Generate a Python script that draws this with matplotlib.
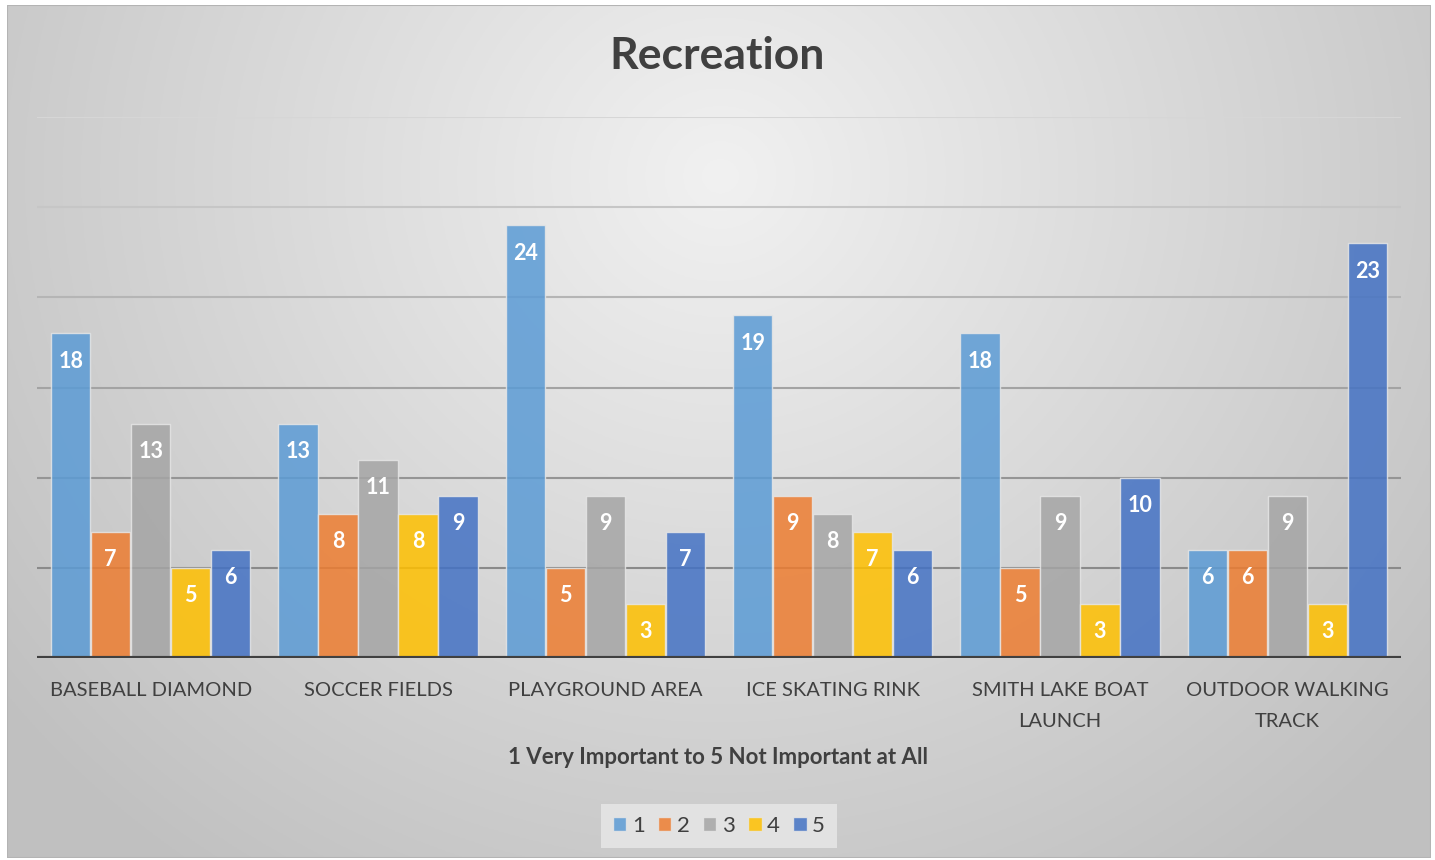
import numpy as np
import matplotlib.pyplot as plt
from matplotlib.patches import Rectangle

categories = ['BASEBALL DIAMOND', 'SOCCER FIELDS', 'PLAYGROUND AREA', 'ICE SKATING RINK',
              'SMITH LAKE BOAT\nLAUNCH', 'OUTDOOR WALKING\nTRACK']
series_names = ['1', '2', '3', '4', '5']
vals_1 = [18, 13, 24, 19, 18, 6]
vals_2 = [7, 8, 5, 9, 5, 6]
vals_3 = [13, 11, 9, 8, 9, 9]
vals_4 = [5, 8, 3, 7, 3, 3]
vals_5 = [6, 9, 7, 6, 10, 23]
grid_vals = [5, 10, 15, 20, 25, 30]

colors = ['#5B9BD5', '#ED7D31', '#A5A5A5', '#FFC000', '#4472C4']
grid_colors = ['#8a8a8a', '#959595', '#a3a3a3', '#b5b5b5', '#c6c6c6', '#d6d6d6']

plt.rcParams['font.family'] = ['Lato', 'DejaVu Sans']

W, H = 1435, 860
fig = plt.figure(figsize=(W / 100, H / 100), dpi=100)
fig.patch.set_facecolor('white')

# fondo con gradiente radial
bg = fig.add_axes([7 / W, 2 / H, (1431 - 7) / W, (855 - 2) / H])
bg.set_axis_off()
yy, xx = np.mgrid[0:300, 0:500]
cx, cy = 250, 60
d = np.sqrt(((xx - cx) / 320) ** 2 + ((yy - cy) / 300) ** 2)
d = np.clip(d, 0, 1)
g = 0.945 - 0.19 * d
img = np.dstack([g, g, g])
bg.imshow(img, aspect='auto', extent=[0, 1, 0, 1], origin='upper')
bg.set_xlim(0, 1)
bg.set_ylim(0, 1)
bg.add_patch(Rectangle((0, 0), 1, 1, fill=False, edgecolor='#b4b4b4', lw=1.5,
                       transform=bg.transAxes))

ax = fig.add_axes([37 / W, 1 - 658 / H, (1401 - 37) / W, (658 - 117) / H])
ax.patch.set_alpha(0)
for s in ax.spines.values():
    s.set_visible(False)

x = np.arange(len(categories))
bw = 40 / 227.3
all_vals = [vals_1, vals_2, vals_3, vals_4, vals_5]
for gv, gc in zip(grid_vals, grid_colors):
    ax.axhline(gv, color=gc, lw=1.5, zorder=1)

for i, (vals, c) in enumerate(zip(all_vals, colors)):
    pos = x + (i - 2) * bw
    bars = ax.bar(pos, vals, width=bw * 0.98, color=c, alpha=0.85,
                  edgecolor='#e6e6e6', linewidth=1, zorder=2, label=series_names[i])
    for p, v in zip(pos, vals):
        ax.annotate(str(v), (p, v), xytext=(0, -28), textcoords='offset pixels',
                    ha='center', va='center', color='white', fontsize=15.5,
                    fontweight='bold', zorder=4)

ax.axhline(0, color='#404040', lw=3, zorder=3)
ax.set_xlim(-0.5, len(categories) - 0.5)
ax.set_ylim(0, 30)
ax.set_yticks([])
ax.set_xticks(x)
ax.set_xticklabels(categories, fontsize=14.5, color='#404040', linespacing=2.0)
ax.tick_params(axis='x', length=0, pad=17)
for lbl in ax.get_xticklabels():
    lbl.set_verticalalignment('top')

fig.text(0.5, 1 - 56 / H, 'Recreation', ha='center', va='center', fontsize=32,
         fontweight='bold', color='#404040')
fig.text(0.5, 1 - 757 / H, '1 Very Important to 5 Not Important at All', ha='center',
         va='center', fontsize=16, fontweight='bold', color='#404040')

leg = fig.legend(loc='center', bbox_to_anchor=(719 / W, 1 - 826 / H), ncol=5,
                 frameon=True, fontsize=16, handlelength=0.6, handleheight=0.6,
                 handletextpad=0.25, columnspacing=0.6, borderpad=0.55)
leg.get_frame().set_facecolor('#e2e2e2')
leg.get_frame().set_edgecolor('none')
leg.get_frame().set_alpha(1)
leg.get_frame().set_boxstyle('square', pad=0)
for t in leg.get_texts():
    t.set_color('#404040')

fig.savefig('out.png', dpi=100)
